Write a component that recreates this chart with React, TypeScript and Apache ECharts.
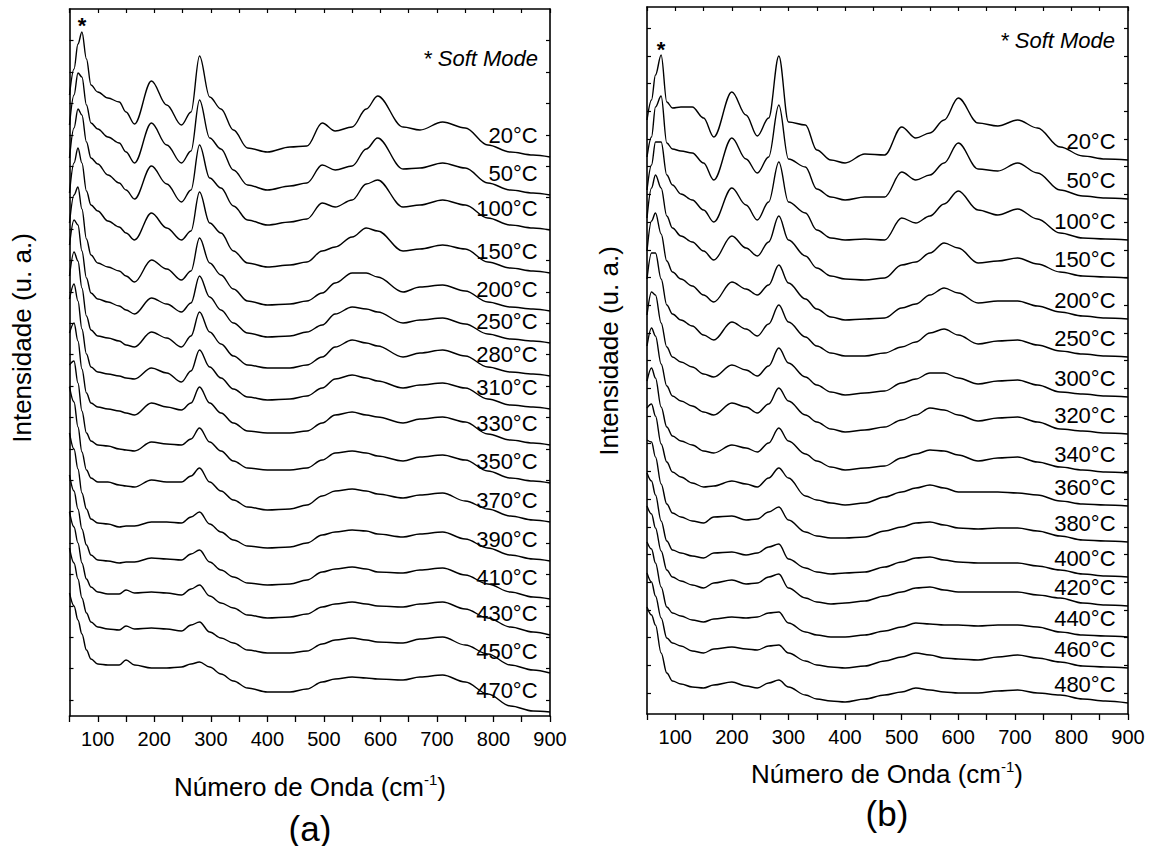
import React, { useEffect, useRef } from 'react';
import * as echarts from 'echarts';

// ---------- Panel (a) ----------
const wavenumbersA = [50, 58, 65, 72, 80, 88, 100, 118, 138, 150, 165, 195, 222, 248, 265, 280, 298, 318, 340, 365, 400, 440, 470, 497, 520, 550, 575, 595, 640, 670, 710, 750, 790, 830, 870, 900];
const tempsA = ['20°C', '50°C', '100°C', '150°C', '200°C', '250°C', '280°C', '310°C', '330°C', '350°C', '370°C', '390°C', '410°C', '430°C', '450°C', '470°C'];
const offsetsA = [559, 521, 486, 443, 405, 373, 340, 307, 271, 233, 194, 155, 117, 81, 43, 4];
const a20 = [62, 88, 113, 125, 98, 72, 65, 59, 55, 45, 33, 76, 52, 32, 45, 101, 60, 48, 27, 9, 5, 10, 11, 34, 26, 30, 48, 61, 30, 27, 35, 29, 12, 5, 2, 0];
const a50 = [70, 100, 122, 118, 90, 72, 66, 58, 52, 43, 32, 72, 50, 32, 44, 95, 57, 46, 25, 10, 5, 9, 12, 30, 25, 29, 46, 57, 26, 27, 32, 27, 12, 5, 2, 0];
const a100 = [72, 102, 121, 115, 88, 72, 66, 55, 47, 40, 31, 64, 46, 28, 40, 85, 52, 42, 24, 10, 5, 8, 11, 27, 23, 30, 46, 50, 23, 25, 30, 25, 12, 5, 2, 0];
const a150 = [80, 110, 125, 110, 82, 68, 62, 52, 46, 40, 33, 60, 45, 33, 42, 81, 50, 40, 22, 10, 6, 8, 11, 22, 26, 36, 45, 42, 22, 24, 28, 24, 11, 5, 2, 0];
const a200 = [88, 116, 124, 102, 72, 56, 48, 44, 40, 35, 29, 51, 42, 31, 40, 73, 48, 36, 22, 10, 6, 7, 10, 18, 28, 38, 38, 34, 19, 24, 26, 20, 9, 4, 2, 0];
const a250 = [98, 123, 118, 92, 65, 50, 44, 41, 37, 33, 29, 45, 39, 31, 40, 67, 46, 33, 20, 10, 6, 7, 11, 18, 29, 36, 34, 31, 20, 23, 25, 19, 9, 4, 2, 0];
const a280 = [100, 124, 115, 88, 60, 46, 40, 38, 35, 31, 29, 44, 38, 29, 40, 64, 44, 32, 20, 11, 8, 8, 11, 19, 29, 36, 33, 30, 19, 23, 26, 20, 9, 4, 2, 0];
const a310 = [110, 125, 108, 80, 55, 42, 37, 35, 33, 31, 30, 41, 36, 27, 38, 59, 42, 31, 20, 12, 9, 10, 13, 21, 30, 34, 31, 28, 21, 24, 26, 21, 10, 4, 2, 0];
const a330 = [112, 122, 104, 76, 52, 42, 38, 36, 34, 32, 30, 42, 38, 35, 42, 58, 42, 32, 22, 14, 12, 12, 14, 22, 30, 33, 30, 28, 22, 26, 28, 23, 11, 5, 2, 0];
const a350 = [118, 122, 100, 72, 50, 42, 38, 37, 34, 33, 32, 41, 39, 38, 44, 55, 41, 32, 22, 15, 13, 13, 15, 23, 30, 32, 30, 27, 22, 26, 28, 23, 12, 5, 2, 0];
const a370 = [135, 120, 95, 70, 52, 44, 40, 40, 37, 36, 35, 42, 40, 40, 46, 54, 40, 31, 22, 15, 12, 13, 17, 26, 31, 33, 31, 28, 24, 27, 29, 21, 13, 6, 2, 0];
const a390 = [128, 112, 92, 68, 52, 42, 38, 37, 34, 35, 35, 39, 39, 38, 44, 49, 37, 29, 21, 15, 13, 14, 18, 26, 29, 31, 30, 27, 24, 27, 29, 22, 13, 6, 2, 0];
const a410 = [124, 108, 90, 70, 54, 44, 39, 38, 36, 37, 37, 41, 40, 39, 45, 49, 37, 29, 22, 16, 14, 15, 19, 27, 30, 32, 30, 27, 26, 29, 31, 24, 15, 7, 2, 0];
const a430 = [123, 108, 92, 72, 56, 48, 43, 41, 41, 45, 42, 43, 42, 40, 46, 50, 39, 32, 27, 20, 17, 18, 21, 28, 31, 33, 31, 29, 28, 31, 33, 26, 17, 8, 3, 0];
const a450 = [125, 110, 94, 75, 60, 51, 46, 44, 43, 47, 44, 45, 44, 42, 48, 51, 41, 35, 30, 23, 20, 20, 22, 29, 33, 35, 33, 31, 30, 34, 36, 28, 19, 8, 3, 0];
const a470 = [119, 106, 92, 78, 62, 53, 48, 47, 47, 52, 47, 44, 44, 45, 48, 50, 45, 38, 31, 24, 20, 20, 23, 30, 33, 35, 34, 33, 32, 35, 37, 30, 18, 6, 1, 0];
const spectraA = [a20, a50, a100, a150, a200, a250, a280, a310, a330, a350, a370, a390, a410, a430, a450, a470];

// ---------- Panel (b) ----------
const wavenumbersB = [50, 58, 65, 75, 85, 95, 110, 130, 150, 168, 200, 225, 245, 265, 283, 300, 330, 350, 375, 400, 435, 470, 500, 525, 550, 575, 600, 635, 670, 705, 740, 780, 820, 860, 900];
const tempsB = ['20°C', '50°C', '100°C', '150°C', '200°C', '250°C', '300°C', '320°C', '340°C', '360°C', '380°C', '400°C', '420°C', '440°C', '460°C', '480°C'];
const offsetsB = [554, 515, 474, 436, 395, 357, 317, 280, 241, 208, 172, 137, 108, 77, 46, 11];
const b20 = [40, 60, 85, 105, 58, 52, 53, 53, 42, 23, 68, 45, 24, 42, 104, 38, 35, 10, 0, -3, 6, 5, 33, 22, 27, 40, 62, 37, 34, 40, 32, 13, 4, 1, 0];
const b50 = [42, 62, 92, 103, 56, 50, 48, 46, 36, 19, 61, 40, 26, 42, 94, 40, 32, 10, 2, -1, 2, 2, 27, 19, 24, 36, 56, 30, 28, 36, 26, 9, 3, 1, 0];
const b100 = [50, 75, 98, 98, 65, 55, 46, 40, 30, 18, 52, 35, 20, 38, 78, 38, 27, 10, 2, 0, 1, 0, 22, 17, 24, 36, 49, 30, 25, 31, 21, 7, 2, 1, 0];
const b150 = [60, 90, 103, 90, 62, 50, 42, 36, 27, 18, 42, 30, 22, 36, 62, 38, 22, 10, 2, -1, -2, 0, 13, 16, 25, 35, 30, 15, 17, 20, 14, 6, 2, 1, 0];
const b200 = [68, 98, 106, 85, 58, 47, 40, 33, 24, 17, 37, 30, 24, 34, 54, 36, 20, 10, 2, -1, 0, 1, 11, 15, 24, 31, 26, 16, 18, 18, 13, 7, 3, 1, 0];
const b250 = [78, 104, 104, 78, 52, 43, 37, 31, 22, 17, 35, 28, 21, 33, 52, 35, 20, 11, 4, 1, 1, 4, 10, 15, 24, 28, 22, 13, 16, 17, 12, 6, 3, 1, 0];
const b300 = [82, 105, 102, 74, 50, 40, 35, 30, 23, 20, 32, 27, 21, 31, 49, 34, 20, 12, 5, 2, 4, 6, 14, 18, 24, 24, 19, 13, 16, 17, 12, 5, 3, 1, 0];
const b320 = [88, 106, 98, 70, 48, 38, 33, 28, 22, 19, 31, 27, 21, 30, 46, 33, 19, 12, 5, 2, 4, 7, 14, 19, 26, 24, 19, 13, 16, 17, 12, 5, 3, 1, 0];
const b340 = [92, 105, 95, 66, 46, 37, 32, 28, 22, 20, 28, 25, 21, 30, 45, 32, 19, 12, 6, 3, 5, 7, 15, 19, 23, 22, 18, 12, 15, 16, 11, 6, 3, 1, 0];
const b360 = [98, 102, 90, 62, 44, 34, 29, 23, 19, 20, 25, 22, 19, 28, 38, 28, 10, 6, 3, 1, 3, 9, 14, 18, 21, 18, 14, 14, 14, 13, 11, 5, 2, 1, 0];
const b380 = [102, 100, 85, 58, 38, 29, 25, 21, 19, 25, 26, 22, 23, 30, 35, 22, 10, 6, 4, 4, 5, 11, 15, 19, 20, 17, 14, 13, 14, 14, 11, 6, 2, 1, 0];
const b400 = [104, 96, 82, 56, 36, 27, 24, 21, 19, 24, 25, 22, 24, 30, 33, 18, 9, 5, 3, 4, 5, 10, 15, 19, 20, 17, 15, 14, 14, 14, 11, 7, 3, 1, 0];
const b420 = [100, 92, 78, 55, 36, 29, 25, 21, 18, 23, 26, 22, 23, 29, 32, 18, 8, 4, 2, 3, 5, 10, 14, 18, 19, 16, 14, 14, 14, 14, 11, 8, 3, 1, 0];
const b440 = [95, 88, 74, 50, 30, 24, 21, 17, 15, 18, 20, 19, 20, 24, 25, 14, 5, 2, 0, 0, 2, 6, 10, 14, 13, 12, 12, 11, 12, 12, 10, 5, 2, 1, 0];
const b460 = [95, 86, 72, 50, 30, 25, 22, 17, 15, 19, 21, 19, 18, 22, 23, 15, 7, 3, 1, 0, 2, 7, 11, 15, 13, 10, 9, 8, 11, 13, 10, 6, 2, 1, 0];
const b480 = [96, 88, 78, 50, 30, 22, 19, 16, 15, 18, 21, 17, 15, 20, 23, 16, 8, 4, 2, 1, 4, 8, 11, 15, 13, 11, 10, 10, 12, 13, 10, 8, 4, 2, 0];
const spectraB = [b20, b50, b100, b150, b200, b250, b300, b320, b340, b360, b380, b400, b420, b440, b460, b480];

const xTicksMajor = [100, 200, 300, 400, 500, 600, 700, 800, 900];

const FONT = '"Liberation Sans", Arial, Helvetica, sans-serif';
const BLACK = '#000';

function makeSeries(
  wn: number[], spectra: number[][], offsets: number[], temps: string[],
  xIdx: number, yIdx: number, lift: number
) {
  return spectra.map((vals, i) => ({
    type: 'line',
    name: temps[i],
    xAxisIndex: xIdx,
    yAxisIndex: yIdx,
    data: wn.map((w, j) => [w, offsets[i] + vals[j]]),
    symbol: 'none',
    showSymbol: false,
    smooth: 0.35,
    smoothMonotone: 'x',
    silent: true,
    lineStyle: { color: BLACK, width: 1.4 },
    markPoint: {
      symbol: 'circle',
      symbolSize: 0,
      silent: true,
      data: [{ coord: [878, offsets[i] + lift], value: temps[i] }],
      label: {
        show: true,
        position: 'left',
        distance: 0,
        formatter: temps[i],
        color: BLACK,
        fontSize: 22,
        fontFamily: FONT,
      },
    },
  }));
}

function xAxes(gridIndex: number) {
  const common = {
    gridIndex,
    type: 'value',
    min: 50,
    max: 900,
    interval: 50,
    splitLine: { show: false },
  };
  return [
    {
      ...common,
      position: 'bottom',
      axisLine: { show: true, onZero: false, lineStyle: { color: BLACK, width: 1.6 } },
      axisTick: { show: true, inside: false, length: 6, lineStyle: { color: BLACK, width: 1.3 } },
      axisLabel: {
        show: true,
        margin: 13,
        fontSize: 20,
        color: BLACK,
        fontFamily: FONT,
        customValues: xTicksMajor,
        formatter: (v: number) => String(v),
      },
    },
    {
      ...common,
      position: 'top',
      axisLine: { show: true, onZero: false, lineStyle: { color: BLACK, width: 1.6 } },
      axisTick: { show: true, inside: true, length: 4, lineStyle: { color: BLACK, width: 1.2 } },
      axisLabel: { show: false },
    },
  ];
}

function yAxes(gridIndex: number, ticks: number[]) {
  const common = {
    gridIndex,
    type: 'value',
    min: 0,
    max: 707,
    splitLine: { show: false },
    axisLabel: { show: false },
    axisLine: { show: true, onZero: false, lineStyle: { color: BLACK, width: 1.6 } },
    axisTick: { show: true, inside: true, length: 4, customValues: ticks, lineStyle: { color: BLACK, width: 1.2 } },
  };
  return [
    { ...common, position: 'left' },
    { ...common, position: 'right' },
  ];
}

export default function App() {
  const ref = useRef<HTMLDivElement>(null);

  useEffect(() => {
    if (!ref.current) return;
    const chart = echarts.init(ref.current, undefined, { renderer: 'svg' });

    const ticksA = Array.from({ length: 22 }, (_, k) => 16 + 31.4 * k);
    const ticksB = Array.from({ length: 25 }, (_, k) => 21 + 27.7 * k);

    const textStyleBase = { fill: BLACK, fontFamily: FONT };

    const xTitle = (x: number, y: number) => ({
      type: 'text',
      x,
      y,
      style: {
        ...textStyleBase,
        text: '{n|Número de Onda (cm}{s|-1}{n|)}',
        align: 'center',
        verticalAlign: 'middle',
        rich: {
          n: { fontSize: 26, lineHeight: 30, fontFamily: FONT, fill: BLACK },
          s: { fontSize: 15, lineHeight: 15, verticalAlign: 'top', fontFamily: FONT, fill: BLACK },
        },
      },
    });

    const option: any = {
      animation: false,
      backgroundColor: '#fff',
      textStyle: { fontFamily: FONT, color: BLACK },
      grid: [
        { left: 69.5, top: 9, width: 480.5, height: 707, containLabel: false },
        { left: 647, top: 7, width: 481, height: 707, containLabel: false },
      ],
      xAxis: [...xAxes(0), ...xAxes(1)],
      yAxis: [...yAxes(0, ticksA), ...yAxes(1, ticksB)],
      series: [
        ...makeSeries(wavenumbersA, spectraA, offsetsA, tempsA, 0, 0, 22),
        ...makeSeries(wavenumbersB, spectraB, offsetsB, tempsB, 2, 2, 19),
      ],
      graphic: [
        {
          type: 'text', x: 22, y: 338, rotation: Math.PI / 2,
          style: { ...textStyleBase, text: 'Intensidade (u. a.)', fontSize: 26, align: 'center', verticalAlign: 'middle' },
        },
        {
          type: 'text', x: 609, y: 351, rotation: Math.PI / 2,
          style: { ...textStyleBase, text: 'Intensidade (u. a.)', fontSize: 26, align: 'center', verticalAlign: 'middle' },
        },
        xTitle(310, 787),
        xTitle(887, 774),
        {
          type: 'text', x: 310, y: 828,
          style: { ...textStyleBase, text: '(a)', fontSize: 35, align: 'center', verticalAlign: 'middle' },
        },
        {
          type: 'text', x: 887, y: 813,
          style: { ...textStyleBase, text: '(b)', fontSize: 35, align: 'center', verticalAlign: 'middle' },
        },
        {
          type: 'text', x: 538, y: 58,
          style: { ...textStyleBase, text: '* Soft Mode', fontSize: 22, fontStyle: 'italic', align: 'right', verticalAlign: 'middle' },
        },
        {
          type: 'text', x: 1115, y: 40,
          style: { ...textStyleBase, text: '* Soft Mode', fontSize: 22, fontStyle: 'italic', align: 'right', verticalAlign: 'middle' },
        },
        {
          type: 'text', x: 82, y: 25,
          style: { ...textStyleBase, text: '*', fontSize: 22, fontWeight: 'bold', align: 'center', verticalAlign: 'middle' },
        },
        {
          type: 'text', x: 661, y: 49,
          style: { ...textStyleBase, text: '*', fontSize: 22, fontWeight: 'bold', align: 'center', verticalAlign: 'middle' },
        },
      ],
    };

    chart.setOption(option);
    return () => chart.dispose();
  }, []);

  return (
    <div
      ref={ref}
      style={{ position: 'absolute', left: 0, top: 0, width: 1149, height: 846, background: '#fff' }}
    />
  );
}
